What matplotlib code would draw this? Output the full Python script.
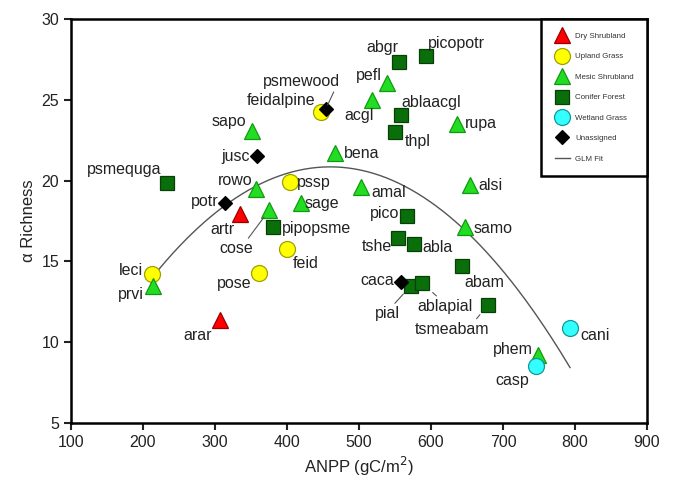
import numpy as np
import matplotlib
matplotlib.use("Agg")
import matplotlib.pyplot as plt
from matplotlib.lines import Line2D

plt.rcParams['font.family'] = ['Liberation Sans', 'DejaVu Sans']

# data: (name, ANPP, richness)
dry_shrub = [("arar", 307, 11.35), ("artr", 335, 17.95)]
upland_grass = [("leci", 212, 14.2), ("pose", 361, 14.3), ("feid", 400, 15.75),
                ("pssp", 404, 19.9), ("feidalpine", 447, 24.25)]
mesic_shrub = [("prvi", 214, 13.5), ("sapo", 351, 23.1), ("rowo", 357, 19.45),
               ("cose", 375, 18.15), ("sage", 419, 18.6), ("bena", 467, 21.7),
               ("amal", 503, 19.6), ("acgl", 518, 25.0), ("pefl", 539, 26.05),
               ("rupa", 636, 23.5), ("alsi", 654, 19.7), ("samo", 647, 17.1),
               ("phem", 748, 9.2)]
conifer = [("psmequga", 233, 19.85), ("pipopsme", 381, 17.1), ("abgr", 555, 27.35),
           ("picopotr", 593, 27.7), ("ablaacgl", 559, 24.05), ("thpl", 550, 23.0),
           ("pico", 566, 17.8), ("tshe", 554, 16.45), ("abla", 576, 16.1),
           ("abam", 643, 14.7), ("pial", 572, 13.5), ("ablapial", 588, 13.65),
           ("tsmeabam", 679, 12.3)]
wetland = [("cani", 793, 10.9), ("casp", 746, 8.5)]
unassigned = [("psmewood", 454, 24.45), ("jusc", 359, 21.55), ("potr", 314, 18.6),
              ("caca", 559, 13.7)]

# GLM fit: quadratic (peak ~460, ~20.85)
glm_peak_x = 460
glm_peak_y = 20.85
glm_curv = -1.12e-4
glm_range = (216, 793)

groups = [
    ("Dry Shrubland", dry_shrub, dict(marker='^', ms=12, mfc='#FF0000', mec='#990000')),
    ("Upland Grass", upland_grass, dict(marker='o', ms=11.5, mfc='#FFFF00', mec='#A0A000')),
    ("Mesic Shrubland", mesic_shrub, dict(marker='^', ms=12, mfc='#22DD22', mec='#119911')),
    ("Conifer Forest", conifer, dict(marker='s', ms=10.5, mfc='#0A6E0A', mec='#064006')),
    ("Wetland Grass", wetland, dict(marker='o', ms=11.5, mfc='#33FFFF', mec='#119999')),
    ("Unassigned", unassigned, dict(marker='D', ms=7.3, mfc='black', mec='black')),
]

# label placement: name -> (dx px, dy px, ha)
label_pos = {
    "arar": (-8, -15, 'right'), "artr": (-6, -16, 'right'),
    "leci": (-9, 4, 'right'), "pose": (-7, -11, 'right'), "feid": (6, -14, 'left'),
    "pssp": (7, 0, 'left'), "feidalpine": (-5, 11, 'right'),
    "prvi": (-9, -9, 'right'), "sapo": (-6, 9, 'right'), "rowo": (-4, 9, 'right'),
    "cose": (-16, -38, 'right'), "sage": (4, 0, 'left'), "bena": (9, 0, 'left'),
    "amal": (10, -5, 'left'), "acgl": (2, -16, 'right'), "pefl": (-5, 7, 'right'),
    "rupa": (8, 1, 'left'), "alsi": (8, 0, 'left'), "samo": (9, -1, 'left'),
    "phem": (-5, 6, 'right'),
    "psmequga": (-5, 14, 'right'), "pipopsme": (9, -1, 'left'), "abgr": (0, 14, 'right'),
    "picopotr": (2, 13, 'left'), "ablaacgl": (0, 13, 'left'), "thpl": (10, -9, 'left'),
    "pico": (-7, 3, 'right'), "tshe": (-6, -9, 'right'), "abla": (9, -4, 'left'),
    "abam": (2, -16, 'left'), "pial": (-11, -28, 'right'), "ablapial": (-5, -23, 'left'),
    "tsmeabam": (-36, -24, 'center'),
    "cani": (10, -8, 'left'), "casp": (-7, -14, 'right'),
    "psmewood": (-24, 27, 'center'), "jusc": (-8, -1, 'right'), "potr": (-7, 2, 'right'),
    "caca": (-7, 2, 'right'),
}
# leader lines: name -> (relpos on text, shrink at point in pt)
leaders = {
    "psmewood": ((0.93, 0.0), 3),
    "cose": ((0.8, 1.0), 6),
    "pial": ((0.7, 1.0), 8),
    "ablapial": ((0.4, 1.0), 10),
    "tsmeabam": ((0.8, 1.0), 9),
}

fig = plt.figure(figsize=(6.74, 4.8), dpi=100)
ax = fig.add_axes([0.1053, 0.1188, 0.8547, 0.8416])

xs = np.linspace(glm_range[0], glm_range[1], 200)
ax.plot(xs, glm_peak_y + glm_curv * (xs - glm_peak_x) ** 2, color='#555555', lw=1.0, zorder=2)

handles = []
for name, pts, style in groups:
    px = [p[1] for p in pts]
    py = [p[2] for p in pts]
    ax.plot(px, py, ls='none', mew=0.9, zorder=3, **style)
    handles.append(Line2D([], [], ls='none', mew=0.9, label=name, **style))
    for lab, x, y in pts:
        dx, dy, ha = label_pos[lab]
        kw = {}
        if lab in leaders:
            rel, shr = leaders[lab]
            kw['arrowprops'] = dict(arrowstyle='-', color='#555555', lw=0.8,
                                    relpos=rel, shrinkA=0, shrinkB=shr)
        ax.annotate(lab, (x, y), xytext=(dx, dy), textcoords='offset pixels',
                    ha=ha, va='center', fontsize=11.5, color='#222222', zorder=4, **kw)
handles.append(Line2D([], [], color='#555555', lw=1.0, label='GLM Fit'))

ax.set_xlim(100, 900)
ax.set_ylim(5, 30)
ax.set_xticks(range(100, 901, 100))
ax.set_yticks(range(5, 31, 5))
ax.tick_params(direction='out', length=5, width=1.5, labelsize=11.5, colors='#222222')
for s in ax.spines.values():
    s.set_linewidth(1.8)
ax.set_xlabel('ANPP (gC/m$^2$)', fontsize=12, color='#222222')
ax.set_ylabel('\u03b1 Richness', fontsize=12, color='#222222')

leg = ax.legend(handles=handles, loc='upper right', borderaxespad=0, fontsize=5.7,
                labelspacing=1.63, handlelength=1.9, handletextpad=0.65,
                borderpad=1.7, fancybox=False, framealpha=1)
leg.get_frame().set_edgecolor('black')
leg.get_frame().set_linewidth(1.8)
for t in leg.get_texts():
    t.set_color('#333333')

fig.savefig('out.png', dpi=100)
